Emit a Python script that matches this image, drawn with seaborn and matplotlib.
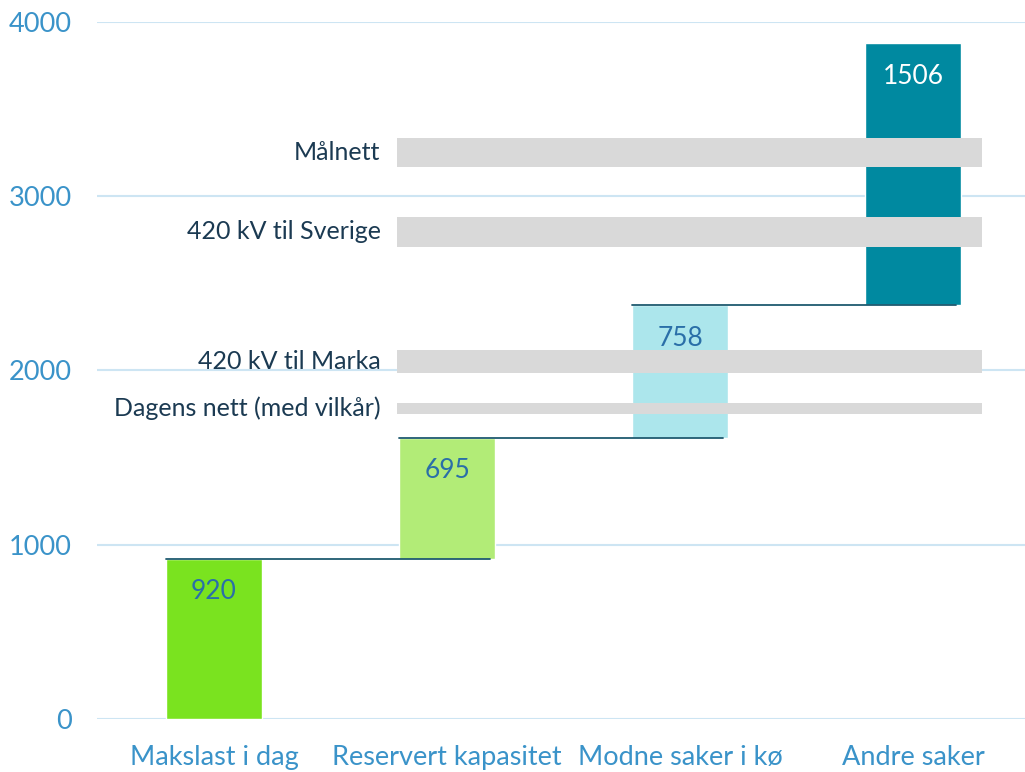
import matplotlib
matplotlib.use("Agg")
import matplotlib.pyplot as plt
import seaborn as sns
import pandas as pd
import numpy as np

categories = ["Makslast i dag", "Reservert kapasitet", "Modne saker i kø", "Andre saker"]
values = [920, 695, 758, 1506]
bar_colors = ["#7ae31f", "#b2ec77", "#ace6ec", "#0089a0"]
label_colors = ["#2a6fa8", "#2a6fa8", "#2a6fa8", "#ffffff"]

band_names = ["Målnett", "420 kV til Sverige", "420 kV til Marka", "Dagens nett (med vilkår)"]
band_low = [3165, 2710, 1985, 1752]
band_high = [3335, 2880, 2118, 1815]

sns.set_style("white")
plt.rcParams["font.family"] = ["Lato", "DejaVu Sans"]

df = pd.DataFrame({"kategori": categories, "verdi": values})
bottoms = np.concatenate([[0], np.cumsum(values)[:-1]])
tops = np.cumsum(values)

fig = plt.figure(figsize=(10.25, 7.72), dpi=100)
ax = fig.add_axes([0.0946, 0.0687, 0.9054, 0.9028])

sns.barplot(
    data=df,
    x="kategori",
    y="verdi",
    hue="kategori",
    palette=bar_colors,
    width=0.41,
    saturation=1,
    legend=False,
    ax=ax,
    zorder=2
)

# shift bars up to make the waterfall
for patch, b in zip(ax.patches, bottoms):
    patch.set_y(b)

# value labels
for i, (t, v) in enumerate(zip(tops, values)):
    ax.annotate(str(v), (i, t), xytext=(0, -15), textcoords="offset points",
                ha="center", va="top", fontsize=19, color=label_colors[i], zorder=5)

# connector lines
half = 0.41 / 2
for i in range(len(values) - 1):
    ax.plot([i - half, i + 1 + half - 0.02], [tops[i], tops[i]],
            color="#1f5a70", lw=1.3, zorder=4)

# grey bands for grid capacity
for name, lo, hi in zip(band_names, band_low, band_high):
    ax.fill_between([0.785, 3.296], lo, hi, color="#d9d9d9", lw=0, zorder=3)
    ax.text(0.715, (lo + hi) / 2, name, ha="right", va="center",
            fontsize=18, color="#1b3a52")

ax.set_xlim(-0.502, 3.48)
ax.set_ylim(0, 4000)
ax.set_yticks([0, 1000, 2000, 3000, 4000])
ax.yaxis.grid(True, color="#cde5f3", lw=1.5, zorder=0)
ax.set_axisbelow(True)
sns.despine(ax=ax, left=True, bottom=True)
ax.tick_params(axis="both", length=0, labelsize=19.5, labelcolor="#3a93c9")
ax.tick_params(axis="y", pad=18)
ax.tick_params(axis="x", pad=19)
ax.set_xlabel("")
ax.set_ylabel("")

plt.savefig("out.png", dpi=100)
